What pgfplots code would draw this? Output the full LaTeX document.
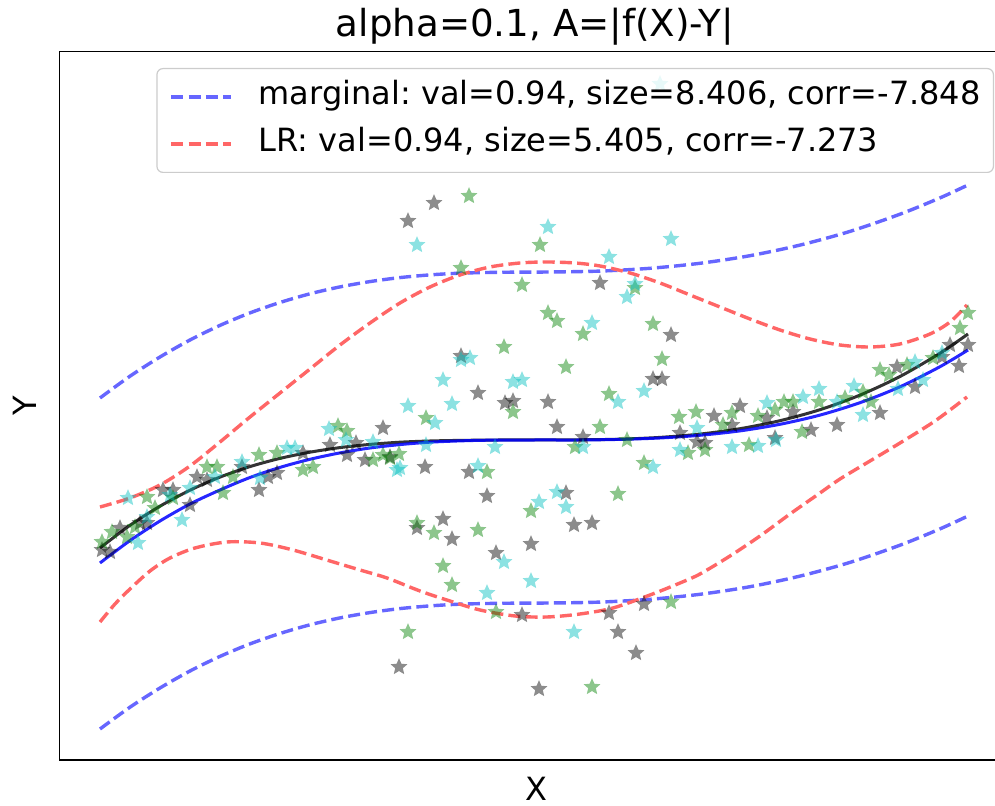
\documentclass[border=0pt]{standalone}
\usepackage{pgfplots}
\pgfplotsset{compat=1.18}
\usepackage{fontspec}
\setmainfont{DejaVu Sans}
\frenchspacing
\definecolor{mgreen}{RGB}{0,128,0}
\definecolor{mcyan}{RGB}{0,191,191}
\definecolor{dblue}{RGB}{102,102,255}
\definecolor{dred}{RGB}{255,102,102}
\pgfdeclareplotmark{fstar}{%
  \pgfpathmoveto{\pgfpointpolar{90}{1*\pgfplotmarksize}}%
  \pgfpathlineto{\pgfpointpolar{126}{0.46*\pgfplotmarksize}}%
  \pgfpathlineto{\pgfpointpolar{162}{1*\pgfplotmarksize}}%
  \pgfpathlineto{\pgfpointpolar{198}{0.46*\pgfplotmarksize}}%
  \pgfpathlineto{\pgfpointpolar{234}{1*\pgfplotmarksize}}%
  \pgfpathlineto{\pgfpointpolar{270}{0.46*\pgfplotmarksize}}%
  \pgfpathlineto{\pgfpointpolar{306}{1*\pgfplotmarksize}}%
  \pgfpathlineto{\pgfpointpolar{342}{0.46*\pgfplotmarksize}}%
  \pgfpathlineto{\pgfpointpolar{18}{1*\pgfplotmarksize}}%
  \pgfpathlineto{\pgfpointpolar{54}{0.46*\pgfplotmarksize}}%
  \pgfpathclose
  \pgfusepathqfill
}
\pgfplotsset{
  dsh/.style={line width=1.7pt, dash pattern=on 6pt off 2.6pt, line cap=butt},
  pts/.style={only marks, mark=fstar, mark size=4.4pt, forget plot,
    mark options={draw=none, fill=#1, fill opacity=0.45}},
}
\begin{document}
\begin{tikzpicture}
\useasboundingbox (0,0) rectangle (497.5pt,403pt);
\begin{axis}[
  at={(29.75pt,23pt)}, anchor=south west, scale only axis,
  width=475.25pt, height=354.25pt,
  xmin=59.5, xmax=1010, ymin=-760, ymax=-51.5,
  xtick=\empty, ytick=\empty,
  axis line style={line width=0.8pt, black},
  legend style={
    at={(1,1)}, anchor=north east, xshift=-8pt, yshift=-8.25pt,
    draw=black!20, line width=0.6pt, rounded corners=3pt,
    fill=white, fill opacity=0.8, text opacity=1, draw opacity=1,
    font=\fontsize{16}{19}\selectfont,
    inner xsep=6.4pt, inner ysep=6.6pt,
    row sep=8pt, column sep=12.8pt,
    nodes={inner sep=0pt, text height=11.6pt, text depth=3.75pt},
  },
  legend cell align=left,
  legend image code/.code={\draw[#1] (0pt,0pt) -- (30pt,0pt);},
]
% scatter: gray
\addplot[pts=black] coordinates {
(434,-203)(408,-221)(600,-283)(671,-335)(461,-356)(478,-393)(505,-403)(513,-401)(548,-402)(557,-427)(653,-379)(662,-379)(383,-428)(583,-437)(680,-433)
(425,-467)(469,-472)(487,-496)(566,-493)(443,-519)(417,-528)(452,-539)(574,-525)(592,-523)(531,-544)(496,-553)(522,-615)(609,-613)(644,-604)(618,-632)(636,-653)(399,-667)(539,-689)(390,-457)
(102,-550)(110,-552)(120,-528)(140,-523)(163,-490)(173,-490)(197,-477)(207,-480)(259,-490)(242,-467)(277,-473)(268,-477)(303,-453)(330,-445)(347,-455)(356,-443)(365,-460)(190,-505)(147,-523)
(697,-442)(705,-443)(714,-416)(732,-425)(740,-406)(767,-418)(793,-412)(811,-430)(837,-425)(880,-413)(897,-367)(915,-387)(942,-357)(950,-345)(959,-366)(968,-345)(775,-438)
};
% scatter: green
\addplot[pts=mgreen] coordinates {
(469,-196)(540,-245)(461,-268)(522,-285)(548,-313)(557,-321)(583,-334)(504,-347)(566,-367)(653,-324)(662,-359)(635,-288)(513,-412)(426,-418)(609,-394)(600,-427)(679,-417)(696,-412)(627,-440)
(487,-472)(644,-463)(618,-494)(531,-511)(417,-523)(434,-533)(478,-530)(443,-566)(452,-585)(408,-632)(496,-612)(671,-602)(592,-687)(575,-447)(399,-454)(383,-455)
(102,-542)(112,-532)(147,-497)(155,-508)(207,-467)(217,-467)(233,-477)(259,-455)(277,-453)(338,-426)(347,-431)(303,-470)(313,-467)(223,-493)(390,-458)(373,-460)(173,-498)(127,-537)(135,-527)
(688,-453)(705,-450)(723,-425)(732,-413)(758,-416)(775,-410)(784,-402)(793,-402)(802,-432)(819,-402)(845,-398)(863,-392)(871,-402)(880,-370)(889,-375)(907,-365)(933,-358)(960,-328)(968,-313)(749,-445)
};
% scatter: cyan
\addplot[pts=mcyan] coordinates {
(548,-227)(417,-245)(609,-257)(671,-239)(635,-284)(627,-297)(592,-323)(470,-358)(461,-360)(443,-380)(513,-382)(522,-380)(452,-404)(408,-406)(435,-423)(644,-391)(618,-402)(426,-445)(495,-447)(697,-428)
(478,-466)(400,-468)(539,-502)(557,-492)(566,-507)(504,-562)(531,-581)(487,-593)(574,-632)(653,-467)(583,-447)(680,-450)(329,-429)
(128,-498)(138,-543)(182,-520)(190,-488)(215,-477)(242,-462)(260,-478)(287,-448)(295,-448)(346,-440)(373,-442)(397,-470)(147,-517)(170,-495)
(732,-447)(758,-446)(767,-403)(803,-397)(819,-389)(837,-402)(854,-386)(863,-415)(898,-389)(915,-362)(923,-380)(942,-353)(776,-440)(660,-84)
};
% marginal band
\addplot[dsh, dblue, smooth] coordinates {
(100,-398)(130,-376.2)(160,-357)(190,-340)(220,-325.4)(250,-312.9)(280,-302.5)(310,-293.8)(340,-286.9)(370,-281.6)(400,-277.6)(430,-274.9)(460,-273.2)(500,-272.3)(550,-272)(600,-271.1)(650,-268.3)(700,-263.3)(750,-255.7)(800,-245.1)(850,-231.4)(900,-214.2)(940,-197.9)(968,-185)
};
\addlegendentry{marginal: val=0.94, size=8.406, corr=-7.848}
% LR band
\addplot[dsh, dred, smooth] coordinates {
(100,-507)(130,-498)(160,-485)(190,-466)(220,-442)(250,-417)(280,-393)(310,-369)(340,-345)(370,-323)(400,-303)(430,-287)(460,-275)(490,-267)(520,-263)(547,-262)(575,-263)(600,-266)(630,-273)(660,-283)(690,-295)(720,-307)(750,-319)(780,-330)(810,-339)(840,-345)(870,-347)(900,-344)(930,-334)(950,-322)(967,-305)
};
\addlegendentry{LR: val=0.94, size=5.405, corr=-7.273}
\addplot[dsh, dblue, smooth, forget plot] coordinates {
(100,-729)(130,-707.2)(160,-688)(190,-671)(220,-656.4)(250,-643.9)(280,-633.5)(310,-624.8)(340,-617.9)(370,-612.6)(400,-608.6)(430,-605.9)(460,-604.2)(500,-603.3)(550,-603)(600,-602.1)(650,-599.3)(700,-594.3)(750,-586.7)(800,-576.1)(850,-562.4)(900,-545.2)(940,-528.9)(968,-516)
};
\addplot[dsh, dred, smooth, forget plot] coordinates {
(100,-622)(115,-604)(130,-589)(150,-571)(170,-558)(195,-548)(227,-542)(260,-543)(293,-550)(330,-561)(360,-570)(387,-578)(420,-591)(450,-601)(480,-610)(515,-616)(547,-617)(580,-614)(613,-608)(650,-595)(680,-583)(700,-574)(730,-556)(760,-536)(790,-514)(820,-493)(840,-479)(870,-461)(900,-443)(935,-421)(967,-397)
};
% fitted curves
\addplot[black, line width=1.5pt, draw opacity=0.8, smooth, forget plot] coordinates {
(100,-548)(130,-525.3)(160,-506.2)(190,-490.2)(220,-477.1)(250,-466.6)(280,-458.4)(310,-452.2)(340,-447.6)(370,-444.4)(400,-442.2)(430,-441)(460,-440.4)(500,-440)(540,-440)(580,-439.8)(620,-439.2)(660,-437.4)(700,-434.1)(740,-428.7)(780,-420.7)(820,-409.7)(860,-395.1)(900,-376.5)(940,-353.2)(968,-334)
};
\addplot[blue, line width=1.5pt, draw opacity=0.85, smooth, forget plot] coordinates {
(100,-563)(130,-540.6)(160,-521)(190,-504)(220,-490)(250,-477.5)(280,-467.4)(310,-459.3)(340,-452.9)(370,-448)(400,-444.6)(430,-442.2)(460,-440.9)(490,-440.2)(540,-440)(580,-440)(620,-439.4)(660,-438)(700,-435.3)(740,-430.9)(780,-424.3)(820,-415.1)(860,-402.7)(900,-386.8)(940,-366.7)(968,-350)
};
\end{axis}
\node[anchor=base, font=\fontsize{18.6}{22}\selectfont] at (267.5pt,384.65pt) {alpha=0.1, A=|f(X)-Y|};
\node[anchor=base, font=\fontsize{16}{19}\selectfont] at (268pt,2.5pt) {X};
\node[anchor=base, rotate=90, font=\fontsize{16}{19}\selectfont] at (18pt,200.1pt) {Y};
\end{tikzpicture}
\end{document}
